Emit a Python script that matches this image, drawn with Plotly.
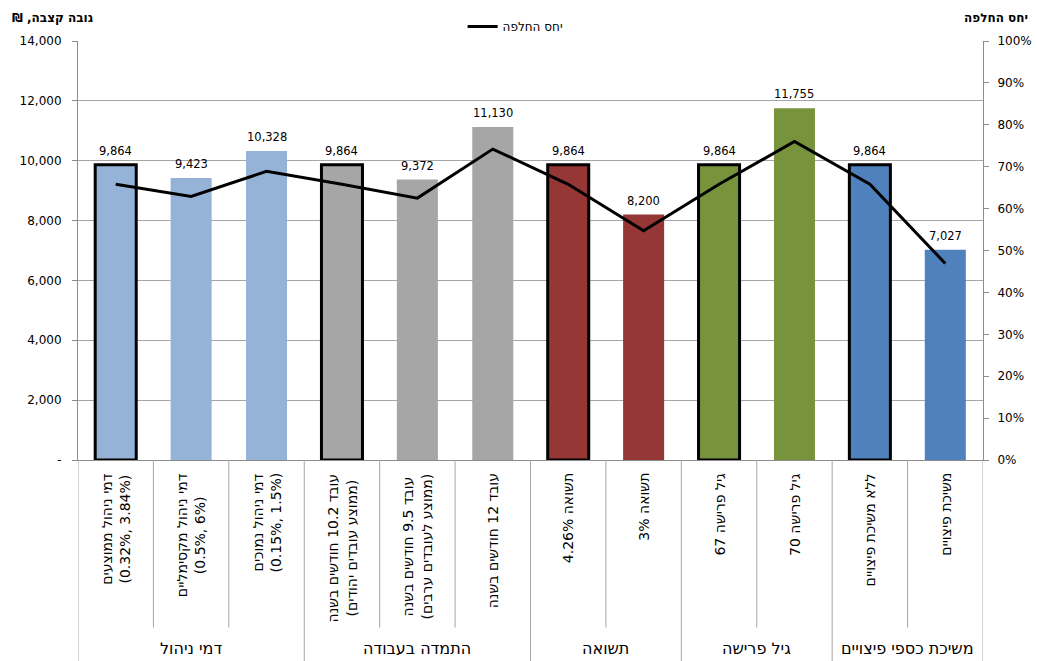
import re
import plotly.graph_objects as go

# ---- data ----
categories = [
    "דמי ניהול ממוצעים<br>(0.32%, 3.84%)",
    "דמי ניהול מקסימליים<br>(0.5%, 6%)",
    "דמי ניהול נמוכים<br>(0.15%, 1.5%)",
    "עובד 10.2 חודשים בשנה<br>(ממוצע עובדים יהודים)",
    "עובד 9.5 חודשים בשנה<br>(ממוצע לעובדים ערבים)",
    "עובד 12 חודשים בשנה",
    "תשואה 4.26%",
    "תשואה 3%",
    "גיל פרישה 67",
    "גיל פרישה 70",
    "ללא משיכת פיצויים",
    "משיכת פיצויים",
]
pension = [9864, 9423, 10328, 9864, 9372, 11130, 9864, 8200, 9864, 11755, 9864, 7027]
replacement_ratio = [65.8, 62.9, 68.9, 65.8, 62.5, 74.2, 65.8, 54.7, 65.8, 76.0, 65.8, 46.9]
group_names = ["דמי ניהול", "התמדה בעבודה", "תשואה", "גיל פרישה", "משיכת כספי פיצויים"]
group_sizes = [3, 3, 2, 2, 2]
left_tickvals = [0, 2000, 4000, 6000, 8000, 10000, 12000, 14000]
left_ticktext = ["-", "2,000", "4,000", "6,000", "8,000", "10,000", "12,000", "14,000"]
right_tickvals = [0, 10, 20, 30, 40, 50, 60, 70, 80, 90, 100]
right_ticktext = ["0%", "10%", "20%", "30%", "40%", "50%", "60%", "70%", "80%", "90%", "100%"]
line_name = "יחס החלפה"
left_title = "גובה קצבה, ₪"
right_title = "יחס החלפה"

# ---- styles ----
group_colors = ["#95B3D7", "#A6A6A6", "#953735", "#77933C", "#4F81BD"]
FONT = "DejaVu Sans"
GRID = "#A6A6A6"
AX = "#8C8C8C"
HEB = re.compile(r"[\u0590-\u05FF]")


def rtl_line(s):
    if not HEB.search(s):
        return s
    return "\u202B" + s + "\u202C"


def rtl(s):
    return "<br>".join(rtl_line(p) for p in s.split("<br>"))


bar_colors, bar_line_w = [], []
for gi, n in enumerate(group_sizes):
    for k in range(n):
        bar_colors.append(group_colors[gi])
        bar_line_w.append(3 if k == 0 else 0)

fig = go.Figure()
fig.add_trace(go.Bar(
    x=categories, y=pension,
    marker=dict(color=bar_colors, line=dict(color="black", width=bar_line_w)),
    showlegend=False, hoverinfo="skip",
))
fig.add_trace(go.Scatter(
    x=categories, y=replacement_ratio, yaxis="y2", mode="lines",
    name=rtl(line_name), line=dict(color="black", width=3),
))

annotations = []
shapes = []
# value labels above bars
for c, v in zip(categories, pension):
    annotations.append(dict(
        x=c, xref="x", y=v, yref="y", yanchor="middle", xanchor="center", yshift=14,
        text=f"{v:,}", showarrow=False, font=dict(family=FONT, size=11.5, color="black"),
    ))
# category labels (rotated)
for c in categories:
    annotations.append(dict(
        x=c, xref="x", y=0, yref="paper", yanchor="top", xanchor="center",
        yshift=-11, text=rtl(c), textangle=-90, showarrow=False, align="center",
        font=dict(family=FONT, size=14, color="black"),
    ))
# dividers and group labels
start = 0
for gi, n in enumerate(group_sizes):
    end = start + n
    annotations.append(dict(
        x=(start + end - 1) / 2, xref="x", y=0, yref="paper", yanchor="middle",
        yshift=-188, text=rtl(group_names[gi]), showarrow=False,
        font=dict(family=FONT, size=16, color="black"),
    ))
    for k in range(start + 1, end):
        shapes.append(dict(type="line", xref="x", yref="paper", x0=k - 0.5, x1=k - 0.5,
                           y0=0, y1=-0.40, line=dict(color=GRID, width=1)))
    shapes.append(dict(type="line", xref="x", yref="paper", x0=start - 0.5, x1=start - 0.5,
                       y0=0, y1=-0.49, line=dict(color=GRID, width=1)))
    start = end
shapes.append(dict(type="line", xref="x", yref="paper", x0=start - 0.5, x1=start - 0.5,
                   y0=0, y1=-0.49, line=dict(color=GRID, width=1)))

annotations.append(dict(x=0.0195, xref="paper", xanchor="right", y=1.055, yref="paper",
                        yanchor="middle", text=rtl(left_title), showarrow=False,
                        font=dict(family=FONT, size=12, color="black", weight="bold")))
annotations.append(dict(x=1.052, xref="paper", xanchor="right", y=1.055, yref="paper",
                        yanchor="middle", text=rtl(right_title), showarrow=False,
                        font=dict(family=FONT, size=12, color="black", weight="bold")))

fig.update_layout(
    width=1037, height=661,
    margin=dict(l=78, r=54, t=41, b=201, autoexpand=False),
    paper_bgcolor="white", plot_bgcolor="white",
    bargap=0.456,
    font=dict(family=FONT, size=12, color="black"),
    xaxis=dict(type="category", range=[-0.5, 11.5], showticklabels=False, ticks="",
               showline=True, linecolor=AX, linewidth=1, showgrid=False, fixedrange=True,
               automargin=False),
    yaxis=dict(range=[0, 14000], tickvals=left_tickvals, ticktext=left_ticktext,
               showline=True, linecolor=AX, linewidth=1, ticks="outside", ticklen=5,
               tickcolor=AX, showgrid=True, gridcolor=GRID, gridwidth=1, zeroline=False,
               ticklabelstandoff=8, automargin=False,
               tickfont=dict(family=FONT, size=12, color="black")),
    yaxis2=dict(range=[0, 100], tickvals=right_tickvals, ticktext=right_ticktext,
                overlaying="y", side="right", showline=True, linecolor=AX, linewidth=1,
                ticks="outside", ticklen=5, tickcolor=AX, showgrid=False, zeroline=False,
                ticklabelstandoff=6, automargin=False,
                tickfont=dict(family=FONT, size=12, color="black")),
    legend=dict(orientation="h", x=0.483, xanchor="center", y=1.0, yanchor="bottom",
                font=dict(family=FONT, size=12, color="black"), bgcolor="rgba(0,0,0,0)"),
    annotations=annotations, shapes=shapes,
)

fig.write_html("out.html")
